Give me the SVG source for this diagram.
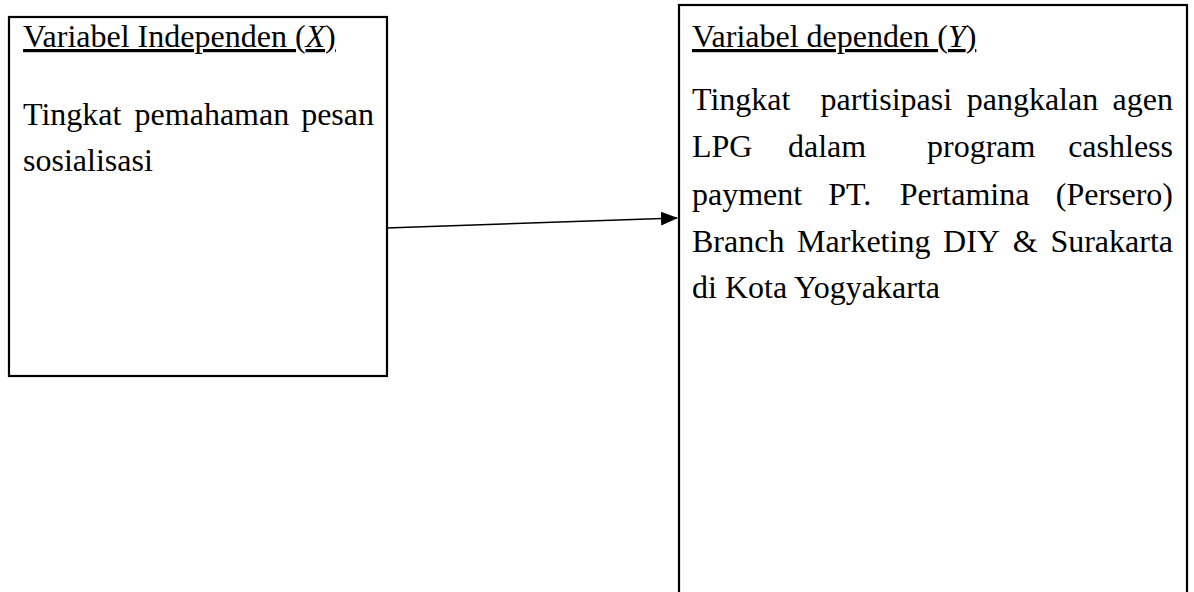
<svg xmlns="http://www.w3.org/2000/svg" width="1194" height="592" viewBox="0 0 1194 592">
<style>
.box{fill:#fff;stroke:#000;stroke-width:2.2}
.t{font-family:"Liberation Serif","Times New Roman",serif;font-size:32px;fill:#000}
.e{text-anchor:end}
.u{text-decoration:underline}
</style>
<defs>
<marker id="ah" markerWidth="17" markerHeight="14" refX="16" refY="7" orient="auto" markerUnits="userSpaceOnUse" viewBox="0 0 17 14">
<path d="M0,0 L17,7 L0,14 Z" fill="#000"/>
</marker>
</defs>
<rect width="1194" height="592" fill="#fff"/>
<g id="nodeX">
<rect class="box" x="9" y="17" width="378" height="359"/>
<text class="t u" x="23" y="47">Variabel Independen (<tspan font-style="italic">X</tspan>)</text>
<text class="t" y="125"><tspan x="23">Tingkat</tspan><tspan x="134.6">pemahaman</tspan><tspan class="e" x="374">pesan</tspan></text>
<text class="t" x="23" y="171">sosialisasi</text>
</g>
<g id="nodeY">
<rect class="box" x="679" y="5" width="508" height="600"/>
<text class="t u" x="692" y="47">Variabel dependen (<tspan font-style="italic">Y</tspan>)</text>
<text class="t" y="110"><tspan x="692">Tingkat</tspan><tspan x="820.6">partisipasi</tspan><tspan x="966.7">pangkalan</tspan><tspan class="e" x="1173">agen</tspan></text>
<text class="t" y="157"><tspan x="692">LPG</tspan><tspan x="788">dalam</tspan><tspan x="927">program</tspan><tspan class="e" x="1173">cashless</tspan></text>
<text class="t" y="205"><tspan x="692">payment</tspan><tspan x="828.3">PT.</tspan><tspan x="899.7">Pertamina</tspan><tspan class="e" x="1173">(Persero)</tspan></text>
<text class="t" y="252"><tspan x="692">Branch</tspan><tspan x="797.1">Marketing</tspan><tspan x="943.1">DIY</tspan><tspan x="1012.7">&amp;</tspan><tspan class="e" x="1173">Surakarta</tspan></text>
<text class="t" x="692" y="298">di Kota Yogyakarta</text>
</g>
<g id="connectors">
<line x1="386" y1="228" x2="677" y2="218" stroke="#000" stroke-width="1.4" marker-end="url(#ah)"/>
</g>
</svg>
